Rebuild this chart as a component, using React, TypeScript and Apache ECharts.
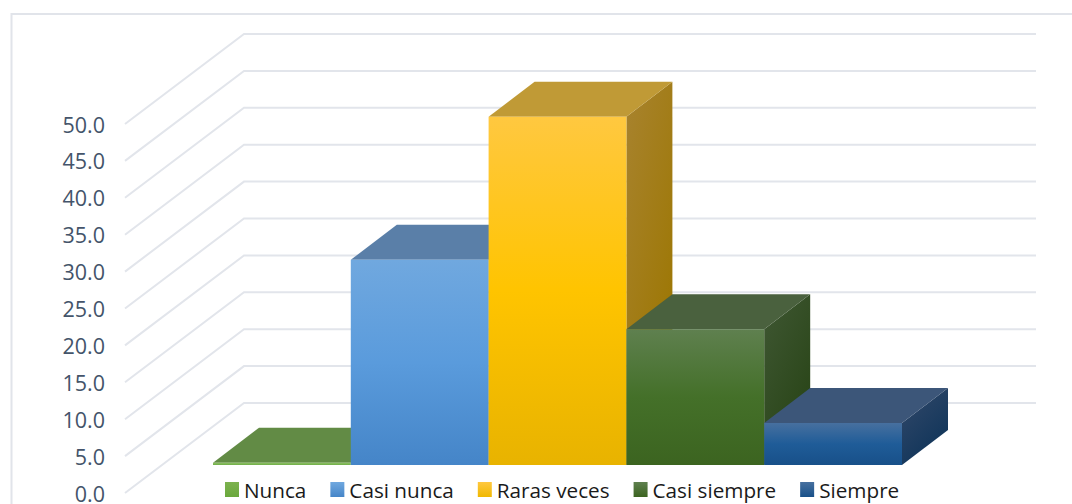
import React, { useEffect, useRef } from "react";
import * as echarts from "echarts";

const categories = ["Nunca", "Casi nunca", "Raras veces", "Casi siempre", "Siempre"];
const values = [0.3, 27.8, 47.2, 18.4, 5.7];
const ticks = [0, 5, 10, 15, 20, 25, 30, 35, 40, 45, 50];

const grad = (stops: [number, string][], x2 = 0, y2 = 1) =>
  new echarts.graphic.LinearGradient(0, 0, x2, y2, stops.map(([offset, color]) => ({ offset, color })));

const frontStops: [number, string][][] = [
  [[0, "#8cc163"], [1, "#70ad47"]],
  [[0, "#70a8df"], [0.5, "#5a9bdc"], [1, "#4585c8"]],
  [[0, "#ffc840"], [0.5, "#ffc400"], [1, "#e8b300"]],
  [[0, "#5f804f"], [0.5, "#447029"], [1, "#3c6420"]],
  [[0, "#47709f"], [0.5, "#1f5c98"], [1, "#185089"]],
];
const topColors = ["#628b45", "#5a7fa8", "#c09a36", "#4a613e", "#3c5679"];
const sideStops: [number, string][][] = [
  [[0, "#55783c"], [1, "#55783c"]],
  [[0, "#4e7198"], [1, "#2d5f92"]],
  [[0, "#a8832f"], [1, "#9c7600"]],
  [[0, "#3f5733"], [1, "#284416"]],
  [[0, "#33496a"], [1, "#0f3459"]],
];
const legendStops: [number, string][][] = [
  [[0, "#7db24f"], [1, "#6aa83c"]],
  [[0, "#70a8df"], [1, "#4585c8"]],
  [[0, "#ffc840"], [1, "#f0b800"]],
  [[0, "#5f804f"], [1, "#3c6420"]],
  [[0, "#47709f"], [1, "#185089"]],
];

// Oblique projection of the 3D chart
const WALL_DX = 119;
const WALL_DY = -90;
const WALL_END_X = 1036;
const WALL_START_X = 125;
const FLOOR_DY = -28;
const DEPTH_DX = 46;
const DEPTH_DY = -35;

const poly = (points: number[][], style: any) => ({ type: "polygon", shape: { points }, style, silent: true });

export default function App() {
  const ref = useRef<HTMLDivElement>(null);
  useEffect(() => {
    document.body.style.margin = "0";
    const chart = echarts.init(ref.current!, undefined, { renderer: "svg" });
    const gridSeries = {
      type: "custom",
      name: "grid",
      silent: true,
      z: 1,
      data: ticks.map((t) => [0, t]),
      renderItem: (_: any, api: any) => {
        const y = api.coord([0, api.value(1)])[1];
        return {
          type: "polyline",
          shape: {
            points: [
              [WALL_START_X, y],
              [WALL_START_X + WALL_DX, y + WALL_DY],
              [WALL_END_X, y + WALL_DY],
            ],
          },
          style: { stroke: "#e2e5eb", lineWidth: 2, fill: "none" },
        };
      },
    };
    const barSeries = categories.map((name, i) => ({
      type: "custom",
      name,
      silent: true,
      z: 2 + i,
      itemStyle: { color: frontStops[i][0][1] },
      data: [[i, values[i]]],
      renderItem: (_: any, api: any) => {
        const top = api.coord([api.value(0), api.value(1)]);
        const base = api.coord([api.value(0), 0]);
        const w = api.size([1, 0])[0];
        const x0 = top[0] - w / 2;
        const x1 = x0 + w;
        const yT = top[1] + FLOOR_DY;
        const yB = base[1] + FLOOR_DY;
        return {
          type: "group",
          children: [
            poly(
              [[x1, yT], [x1 + DEPTH_DX, yT + DEPTH_DY], [x1 + DEPTH_DX, yB + DEPTH_DY], [x1, yB]],
              { fill: grad(sideStops[i], 0.6, 1) }
            ),
            poly(
              [[x0, yT], [x1, yT], [x1 + DEPTH_DX, yT + DEPTH_DY], [x0 + DEPTH_DX, yT + DEPTH_DY]],
              { fill: topColors[i] }
            ),
            { type: "rect", shape: { x: x0, y: yT, width: w, height: yB - yT }, style: { fill: grad(frontStops[i]) }, silent: true },
          ],
        };
      },
    }));
    chart.setOption({
      animation: false,
      tooltip: { show: false },
      graphic: [
        {
          type: "polyline",
          z: 0,
          silent: true,
          shape: { points: [[11.5, 504], [11.5, 14], [1072, 14]] },
          style: { stroke: "#e1e4ea", lineWidth: 2, fill: "none" },
        },
      ],
      grid: { left: 213, top: 124, width: 689, height: 369, containLabel: false },
      xAxis: { type: "category", data: categories, show: false },
      yAxis: {
        type: "value",
        min: 0,
        max: 50,
        interval: 5,
        axisLine: { show: false },
        axisTick: { show: false },
        splitLine: { show: false },
        axisLabel: {
          margin: 108,
          color: "#44546a",
          fontFamily: "Open Sans",
          fontSize: 21.5,
          lineHeight: 14,
          padding: [3, 0, 0, 0],
          formatter: (v: number) => v.toFixed(1),
        },
      },
      legend: {
        left: 225,
        top: 479,
        padding: 0,
        itemWidth: 14,
        itemHeight: 15,
        itemGap: 24,
        icon: "rect",
        textStyle: { color: "#1a1a1a", fontFamily: "Open Sans", fontSize: 20.7 },
        data: categories.map((name, i) => ({ name, itemStyle: { color: grad(legendStops[i]) } })),
      },
      series: [gridSeries, ...barSeries],
    });
    return () => chart.dispose();
  }, []);
  return <div ref={ref} style={{ width: 1072, height: 504, background: "#fff" }} />;
}
